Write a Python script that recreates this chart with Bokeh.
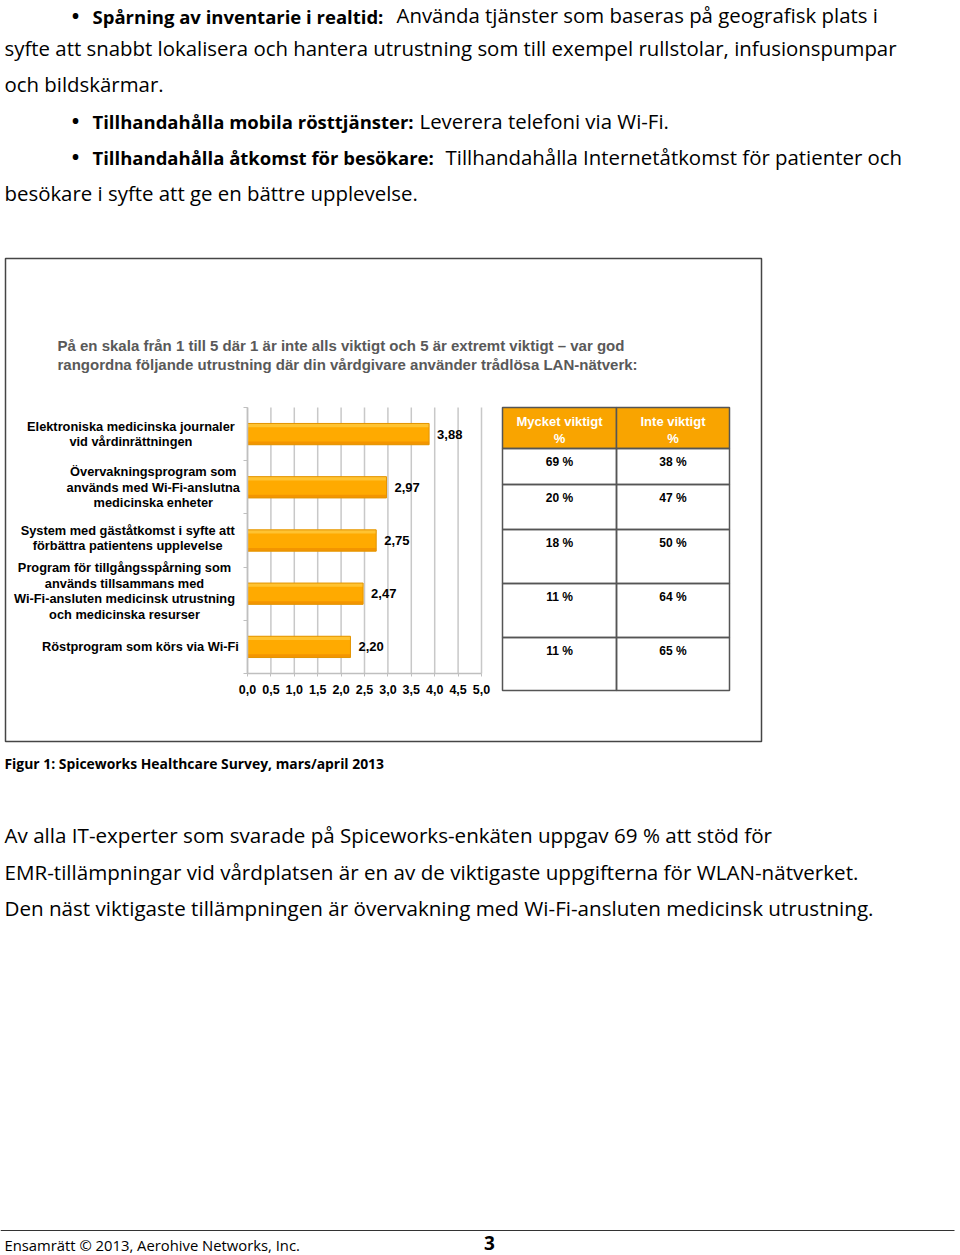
from bokeh.plotting import figure
from bokeh.layouts import column
from bokeh.models import (Range1d, FixedTicker, Label, LabelSet, LinearAxis,
                          BoxAnnotation, ColumnDataSource, CustomJSTickFormatter)
from bokeh.core.properties import value
from bokeh.transform import dodge
from bokeh.embed import file_html
from bokeh.resources import INLINE

# ---------------- data ----------------
categories = [
    "Elektroniska medicinska journaler\nvid vårdinrättningen",
    "Övervakningsprogram som\nanvänds med Wi-Fi-anslutna\nmedicinska enheter",
    "System med gäståtkomst i syfte att\nförbättra patientens upplevelse",
    "Program för tillgångsspårning som\nanvänds tillsammans med\nWi-Fi-ansluten medicinsk utrustning\noch medicinska resurser",
    "Röstprogram som körs via Wi-Fi",
]
scores = [3.88, 2.97, 2.75, 2.47, 2.20]
very_important = [69, 20, 18, 11, 11]
not_important = [38, 47, 50, 64, 65]
table_headers = ["Mycket viktigt\n%", "Inte viktigt\n%"]
tick_values = [0.0, 0.5, 1.0, 1.5, 2.0, 2.5, 3.0, 3.5, 4.0, 4.5, 5.0]
tick_labels = ["0,0", "0,5", "1,0", "1,5", "2,0", "2,5", "3,0", "3,5", "4,0", "4,5", "5,0"]
chart_title = ["På en skala från 1 till 5 där 1 är inte alls viktigt och 5 är extremt viktigt – var god",
               "rangordna följande utrustning där din vårdgivare använder trådlösa LAN-nätverk:"]
bullets = [("Spårning av inventarie i realtid:", "Använda tjänster som baseras på geografisk plats i"),
           ("Tillhandahålla mobila rösttjänster:", "Leverera telefoni via Wi-Fi."),
           ("Tillhandahålla åtkomst för besökare:", "Tillhandahålla Internetåtkomst för patienter och")]
intro_cont = ["syfte att snabbt lokalisera och hantera utrustning som till exempel rullstolar, infusionspumpar",
              "och bildskärmar.",
              "besökare i syfte att ge en bättre upplevelse."]
caption = "Figur 1: Spiceworks Healthcare Survey, mars/april 2013"
body = ["Av alla IT-experter som svarade på Spiceworks-enkäten uppgav 69 % att stöd för",
        "EMR-tillämpningar vid vårdplatsen är en av de viktigaste uppgifterna för WLAN-nätverket.",
        "Den näst viktigaste tillämpningen är övervakning med Wi-Fi-ansluten medicinsk utrustning."]
footer = "Ensamrätt © 2013, Aerohive Networks, Inc."
page_no = "3"

# ---------------- layout (page pixels) ----------------
W, H = 960, 1255
N = len(categories)
FL, FR, FT, FB = 247, 481, 407, 673          # bar plot area on the page
UNIT = (FR - FL) / 5.0                       # px per score unit
BAND = (FB - FT) / N                         # px per category band
RB = 6                                       # right border (holds the band axis panel)
A_FRAME_BOT, A_H = 775, 815                  # upper figure: frame bottom, figure height
LINE_PX = 15.5                               # line spacing of category labels

PAGE_FONT = "Open Sans"
CHART_FONT = "Liberation Sans"
BL = 0.35                                    # baseline correction (em)


def base_fig(h, y0, y1, bottom_border=0):
    f = figure(width=W, height=h, x_range=Range1d(0, W - RB), y_range=Range1d(y1, y0),
               output_backend="svg", toolbar_location=None,
               min_border_left=0, min_border_top=0, min_border_right=RB,
               min_border_bottom=bottom_border,
               x_axis_location=None, y_axis_location=None)
    f.grid.visible = False
    f.outline_line_color = None
    f.background_fill_color = "white"
    f.border_fill_color = "white"
    return f


def box(f, left, right, top, bottom, line="#555555", lw=1.5, fill=None):
    f.add_layout(BoxAnnotation(left=left, right=right, top=top, bottom=bottom,
                               fill_color=fill, fill_alpha=1 if fill else 0,
                               line_color=line, line_width=lw, line_alpha=1 if line else 0))


def label(f, x, y, text, font=PAGE_FONT, size=20.4, style="normal", color="#000000",
          align="left", baseline="alphabetic", lh=1.2):
    if baseline == "alphabetic":
        y = y - BL * size
    f.add_layout(Label(x=x, y=y, text=text, text_font=font, text_font_size=f"{size}px",
                       text_font_style=style, text_color=color, text_align=align,
                       text_baseline=baseline, text_line_height=lh))


# ================= upper figure =================
A = base_fig(A_H, 0, A_FRAME_BOT, bottom_border=A_H - A_FRAME_BOT)
A.extra_x_ranges = {"val": Range1d((0 - FL) / UNIT, (W - RB - FL) / UNIT)}
A.extra_y_ranges = {"band": Range1d((FB - A_FRAME_BOT) / BAND, FB / BAND)}

# intro text
bullet_y = [22, 127.3, 163.3]
reg_x = [396, 419, 445]
for (b, rtext), y, rx in zip(bullets, bullet_y, reg_x):
    label(A, 75, y, "•", size=20, style="bold", align="center")
    label(A, 92, y, b, size=18.5, style="bold")
    label(A, rx, y, rtext)
label(A, 4, 54.8, intro_cont[0])
label(A, 4, 90.9, intro_cont[1])
label(A, 4, 200, intro_cont[2])

# chart box and title
box(A, 5, 761, 258, 741, line="#454545", lw=1.5)
for i, t in enumerate(chart_title):
    label(A, 57, 350 + 19 * i, t, font=CHART_FONT, size=15, style="bold", color="#595959")

# grid lines (at the tick values)
A.segment(x0=tick_values, x1=tick_values, y0=0, y1=N, x_range_name="val", y_range_name="band",
          line_color="#C8C8C8", line_width=1.5)

# bars
src = ColumnDataSource(dict(
    cat=categories, score=scores,
    row=[N - i - 0.5 for i in range(N)],
    score_text=[f"{v:.2f}".replace(".", ",") for v in scores],
))
A.hbar(y="row", right="score", left=0, height=0.4, source=src,
       x_range_name="val", y_range_name="band",
       fill_color="#FFAA00", line_color=None)
# soft highlight / shade to imitate the bar gradient
A.hbar(y=dodge("row", 0.165), right="score", left=0, height=0.07, source=src,
       x_range_name="val", y_range_name="band",
       fill_color="#FFC83A", fill_alpha=0.85, line_color=None)
A.hbar(y=dodge("row", -0.17), right="score", left=0, height=0.06, source=src,
       x_range_name="val", y_range_name="band",
       fill_color="#F09000", fill_alpha=0.8, line_color=None)
A.hbar(y="row", right="score", left=0, height=0.4, source=src,
       x_range_name="val", y_range_name="band",
       fill_alpha=0, line_color="#E39400", line_width=1)
A.add_layout(LabelSet(x="score", y="row", text="score_text", source=src, x_offset=8,
                      x_range_name="val", y_range_name="band",
                      text_font=value(CHART_FONT), text_font_style="bold", text_font_size="13px",
                      text_color="#000000", text_baseline="middle"))

# category labels: one entry per line, lines centred, block right-aligned to the axis
lines, lx, ly = [], [], []
for i, c in enumerate(categories):
    parts = c.split("\n")
    cx = (FL - 11) - 3.2 * max(len(s) for s in parts)
    lift = 0.05 if len(parts) in (2, 4) and i > 0 else 0.0
    for k, s in enumerate(parts):
        lines.append(s)
        lx.append(cx)
        ly.append(N - i - 0.5 + lift - (k - (len(parts) - 1) / 2) * LINE_PX / BAND)
lab_src = ColumnDataSource(dict(text=lines, x=lx, y=ly))
A.add_layout(LabelSet(x="x", y="y", text="text", source=lab_src, y_range_name="band",
                      text_font=value(CHART_FONT), text_font_style="bold", text_font_size="12.8px",
                      text_color="#000000", text_align="center", text_baseline="middle"))

# axes
xax = LinearAxis(x_range_name="val", fixed_location=FB, bounds=(0, 5),
                 ticker=FixedTicker(ticks=tick_values),
                 formatter=CustomJSTickFormatter(
                     args=dict(vals=tick_values, labs=tick_labels),
                     code="const i = vals.findIndex(v => Math.abs(v - tick) < 1e-6); return i >= 0 ? labs[i] : '';"),
                 axis_line_color="#BFBFBF", axis_line_width=1.5,
                 major_tick_line_color="#BFBFBF", major_tick_out=3, major_tick_in=0,
                 minor_tick_line_color=None,
                 major_label_text_font=CHART_FONT, major_label_text_font_style="bold",
                 major_label_text_font_size="12.5px", major_label_text_color="#000000",
                 major_label_standoff=8)
A.add_layout(xax, "below")
yax = LinearAxis(y_range_name="band", fixed_location=FL, bounds=(0, N),
                 ticker=FixedTicker(ticks=list(range(N + 1))),
                 formatter=CustomJSTickFormatter(code="return '';"),
                 axis_line_color="#BFBFBF", axis_line_width=1.5,
                 major_tick_line_color="#BFBFBF", major_tick_out=0, major_tick_in=4,
                 minor_tick_line_color=None, major_label_standoff=0)
A.add_layout(yax, "right")

# table
col_edges = [502, 616, 729]
row_edges = [407, 448, 484, 529, 583, 637, 690]
for c in range(2):
    cx = (col_edges[c] + col_edges[c + 1]) / 2
    box(A, col_edges[c], col_edges[c + 1], row_edges[0], row_edges[1], line="#555555", fill="#F9A400")
    label(A, cx, 429.5, table_headers[c], font=CHART_FONT, size=13, style="bold",
          color="#FFFFFF", align="center", baseline="middle", lh=1.15)
    col_vals = very_important if c == 0 else not_important
    for r in range(N):
        box(A, col_edges[c], col_edges[c + 1], row_edges[r + 1], row_edges[r + 2], line="#555555")
        label(A, cx, row_edges[r + 1] + 13.5, f"{col_vals[r]} %", font=CHART_FONT,
              size=12, style="bold", align="center", baseline="middle")

# caption
label(A, 4, 767.5, caption, size=13.9, style="bold")

# ================= lower figure =================
B = base_fig(H - A_H, A_H, H)
for i, t in enumerate(body):
    label(B, 4, 841.7 + 36.7 * i, t, size=20.6)
box(B, 0, 957, 1229.5, 1230.5, line=None, fill="#333333")
label(B, 4, 1250, footer, size=14.8)
label(B, 489, 1249, page_no, size=19, style="bold", align="center")

layout = column(A, B)
open("out.html", "w").write(file_html(layout, INLINE))
